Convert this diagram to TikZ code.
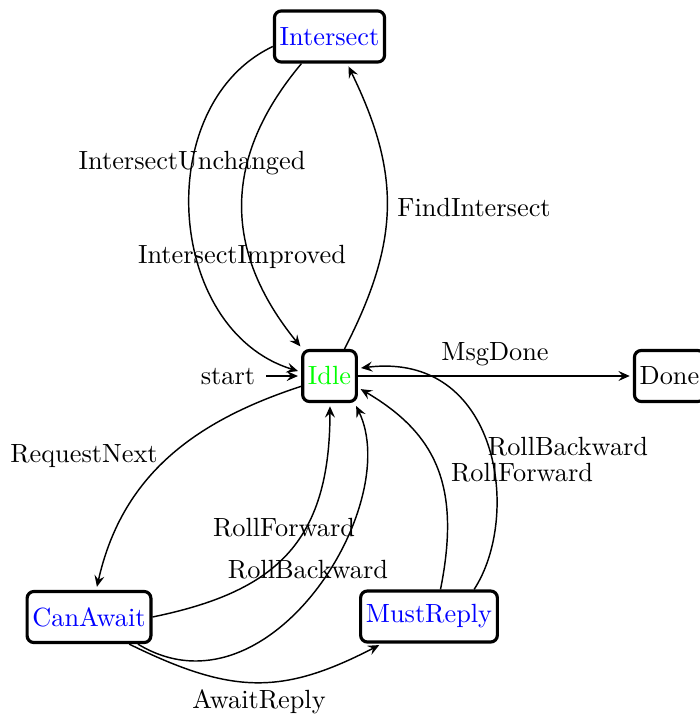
\documentclass[tikz,border=0pt]{standalone}
\usetikzlibrary{arrows.meta}
\begin{document}
\begin{tikzpicture}[x=0.38pt,y=-0.38pt,
  statebox/.style={draw, line width=1.2pt, rounded corners=2.6pt,
    inner xsep=2pt, inner ysep=0pt, minimum height=19.4pt, fill=white},
  trans/.style={line width=0.55pt,
    -{Stealth[length=4.3pt,width=3.8pt,inset=1.6pt]}, shorten >=1.2pt},
  lbl/.style={inner sep=0pt}]
\useasboundingbox (0,0) rectangle (700,715);

% states
\node[statebox, text=blue]  (intersect) at (329.5,36.5) {Intersect};
\node[statebox, text=green] (idle)      at (329.5,376)  {Idle};
\node[statebox]             (done)      at (669.5,376)  {Done};
\node[statebox, text=blue]  (canawait)  at (89,617)     {CanAwait};
\node[statebox, text=blue]  (mustreply) at (429,616.5)  {MustReply};

% initial marker
\coordinate (init) at (266,376);
\node[lbl] (startlbl) at (228,377) {start};
\draw[trans] (init) -- (idle.west);

% Idle <-> Intersect
\draw[trans] (idle.61) .. controls (400,241) and (401,174) .. (intersect.-57);
\draw[trans] (intersect.-136) .. controls (223,157) and (222,250) .. (idle.135);
\draw[trans] (intersect.-170.5) .. controls (151,104) and (165,330) .. (idle.172);

% Idle -> Done
\draw[trans] (idle.east) -- (done.west);

% Idle <-> CanAwait
\draw[trans] (idle.200) .. controls (195,421) and (122,475) .. (canawait.75.5);
\draw[trans] (canawait.east) .. controls (274,592) and (330,544) .. (idle.-89);
\draw[trans] (canawait.-29) .. controls (268,723) and (404,505) .. (idle.-47);

% CanAwait -> MustReply
\draw[trans] (canawait.-34.7) .. controls (231,694) and (281,696) .. (mustreply.-150);

% MustReply -> Idle
\draw[trans] (mustreply.67.5) .. controls (461,487) and (437,434) .. (idle.-22);
\draw[trans] (mustreply.31) .. controls (522,516) and (499,351) .. (idle.15);

% transition labels
\node[lbl] (lfind)   at (474,208) {FindIntersect};
\node[lbl] (lunch)   at (192,163) {IntersectUnchanged};
\node[lbl] (limpr)   at (242,257) {IntersectImproved};
\node[lbl] (lmsg)    at (495,354) {MsgDone};
\node[lbl] (lreq)    at (84,456)  {RequestNext};
\node[lbl] (lrfa)    at (284,528) {RollForward};
\node[lbl] (lrba)    at (308,570) {RollBackward};
\node[lbl] (lrbm)    at (568,447) {RollBackward};
\node[lbl] (lrfm)    at (522,473) {RollForward};
\node[lbl] (lawait)  at (259,702) {AwaitReply};
\end{tikzpicture}
\end{document}
